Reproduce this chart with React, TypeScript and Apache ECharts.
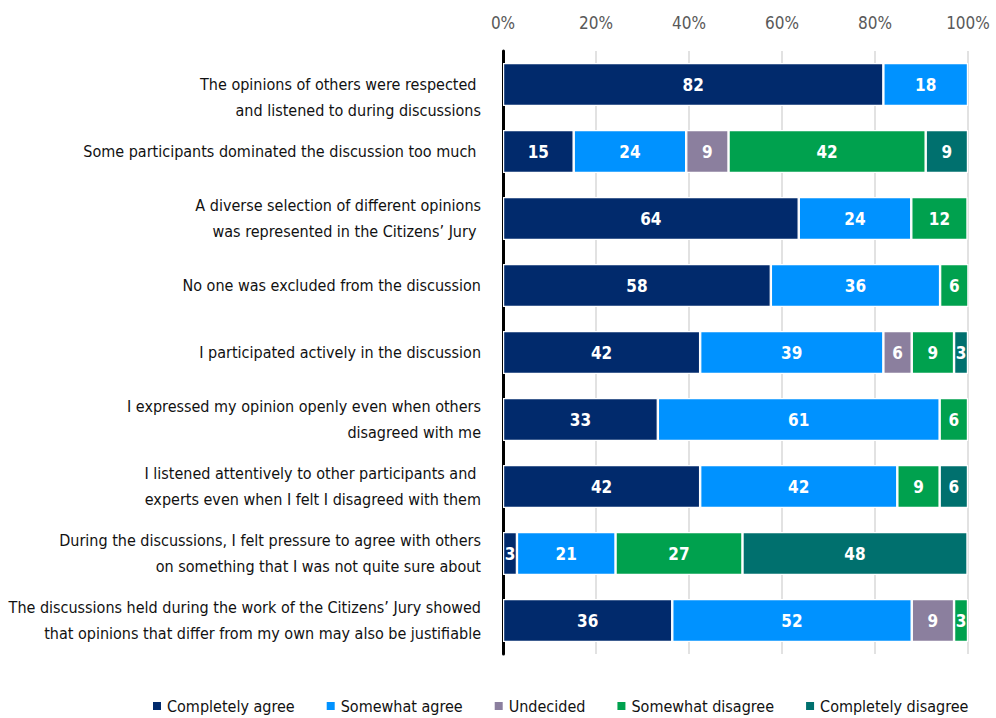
import React, { useEffect, useRef } from "react";
import * as echarts from "echarts";

const categories = [
  "The opinions of others were respected \nand listened to during discussions",
  "Some participants dominated the discussion too much ",
  "A diverse selection of different opinions\nwas represented in the Citizens’ Jury ",
  "No one was excluded from the discussion",
  "I participated actively in the discussion",
  "I expressed my opinion openly even when others\ndisagreed with me",
  "I listened attentively to other participants and \nexperts even when I felt I disagreed with them",
  "During the discussions, I felt pressure to agree with others\non something that I was not quite sure about",
  "The discussions held during the work of the Citizens’ Jury showed\nthat opinions that differ from my own may also be justifiable",
];

const seriesNames = [
  "Completely agree",
  "Somewhat agree",
  "Undecided",
  "Somewhat disagree",
  "Completely disagree",
];

const completelyAgree = [81.8, 15.2, 63.6, 57.6, 42.4, 33.3, 42.4, 3.0, 36.4];
const somewhatAgree = [18.2, 24.2, 24.2, 36.4, 39.4, 60.6, 42.4, 21.2, 51.5];
const undecided = [null, 9.1, null, null, 6.1, null, null, null, 9.1];
const somewhatDisagree = [null, 42.4, 12.1, 6.1, 9.1, 6.1, 9.1, 27.3, 3.0];
const completelyDisagree = [null, 9.1, null, null, 3.0, null, 6.1, 48.4, null];

const tickLabels = ["0%", "20%", "40%", "60%", "80%", "100%"];

const colors = ["#012A6C", "#0092FF", "#8B7F9E", "#00A14E", "#00706E"];

const FONT = "'DejaVu Sans Condensed', 'Liberation Sans Narrow', sans-serif";

export default function App() {
  const ref = useRef<HTMLDivElement>(null);
  useEffect(() => {
    document.body.style.margin = "0";
    if (!ref.current) return;
    const chart = echarts.init(ref.current, undefined, { renderer: "svg" });
    const allData = [completelyAgree, somewhatAgree, undecided, somewhatDisagree, completelyDisagree];
    chart.setOption({
      animation: false,
      textStyle: { fontFamily: FONT },
      grid: { left: 503, right: 28, top: 51, bottom: 64, containLabel: false, outerBoundsMode: "none" },
      legend: {
        top: 693,
        left: 146,
        icon: "rect",
        itemWidth: 10,
        itemHeight: 10,
        itemGap: 30,
        textStyle: { fontFamily: FONT, fontSize: 16, color: "#111" },
        data: seriesNames,
      },
      xAxis: {
        type: "value",
        position: "top",
        min: 0,
        max: 100,
        interval: 20,
        axisLine: { show: false },
        axisTick: { show: false },
        splitLine: { show: true, lineStyle: { color: "#d9d9d9", width: 1.5 } },
        axisLabel: {
          margin: 20,
          fontFamily: FONT,
          fontSize: 17,
          color: "#595959",
          formatter: (v: number) => tickLabels[Math.round(v / 20)],
        },
      },
      yAxis: {
        type: "category",
        inverse: true,
        data: categories,
        axisLine: { show: true, lineStyle: { color: "#000", width: 3 } },
        axisTick: { show: false },
        axisLabel: {
          margin: 22,
          fontFamily: FONT,
          fontSize: 16,
          lineHeight: 26,
          color: "#111",
          align: "right",
          formatter: (v: string, i: number) => (i === 0 ? "\n" + v : v),
        },
      },
      series: seriesNames.map((name, i) => ({
        name,
        type: "bar",
        stack: "total",
        barWidth: 43,
        data: allData[i],
        itemStyle: { color: colors[i], borderColor: "#fff", borderWidth: 1.2 },
        label: {
          show: true,
          position: "inside",
          color: "#fff",
          fontFamily: FONT,
          fontWeight: "bold",
          fontSize: 17,
          formatter: (p: any) => String(Math.round(p.value)),
        },
      })),
    });
    return () => chart.dispose();
  }, []);
  return <div ref={ref} style={{ width: 996, height: 718 }} />;
}
